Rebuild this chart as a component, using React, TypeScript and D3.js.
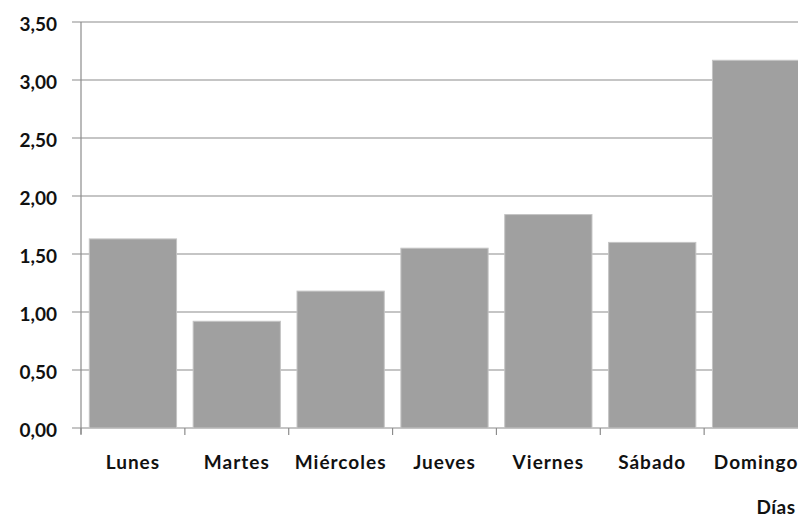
import React from "react";
import * as d3 from "d3";

const categories = ["Lunes", "Martes", "Miércoles", "Jueves", "Viernes", "Sábado", "Domingo"];
const values = [1.63, 0.92, 1.18, 1.55, 1.84, 1.6, 3.17];
const yTicks = [0, 0.5, 1, 1.5, 2, 2.5, 3, 3.5];
const xTitle = "Días";

const W = 798;
const H = 519;
const left = 81;
const right = 808;
const top = 22;
const bottom = 428;
const font = "Lato, 'Open Sans', sans-serif";

export default function App() {
  const x = d3.scaleBand<string>().domain(categories).range([left, right]).paddingInner(0.16).paddingOuter(0.08);
  const xTick = d3.scaleLinear().domain([0, categories.length]).range([left, right]);
  const y = d3.scaleLinear().domain([0, 3.5]).range([bottom, top]);
  const fmt = (v: number) => d3.format(".2f")(v).replace(".", ",");

  return (
    <svg width={W} height={H} style={{ position: "absolute", left: 0, top: 0 }}>
      <rect x={0} y={0} width={W} height={H} fill="#fff" />
      {yTicks.map((t) => (
        <g key={t}>
          <line x1={72} x2={right} y1={y(t)} y2={y(t)} stroke="#8c8c8c" strokeWidth={1.2} />
          <text x={57} y={y(t) + 8.5} textAnchor="end" fontFamily={font} fontWeight="bold" fontSize={19} fill="#111">
            {fmt(t)}
          </text>
        </g>
      ))}
      <line x1={left} x2={left} y1={top} y2={bottom + 6} stroke="#8c8c8c" strokeWidth={1.2} />
      {d3.range(categories.length + 1).map((i) => (
        <line key={i} x1={xTick(i)} x2={xTick(i)} y1={bottom} y2={bottom + 7} stroke="#8c8c8c" strokeWidth={1.2} />
      ))}
      {categories.map((c, i) => (
        <rect
          key={c}
          x={x(c)}
          y={y(values[i])}
          width={x.bandwidth()}
          height={bottom - y(values[i])}
          fill="#a0a0a0"
          stroke="#c4c4c4"
          strokeWidth={1}
        />
      ))}
      {categories.map((c) => (
        <text
          key={c}
          x={(x(c) as number) + x.bandwidth() / 2}
          y={469}
          textAnchor="middle"
          fontFamily={font}
          fontWeight="bold"
          fontSize={19}
          letterSpacing={1}
          fill="#111"
        >
          {c}
        </text>
      ))}
      <text x={776} y={514} textAnchor="middle" fontFamily={font} fontWeight="bold" fontSize={19} letterSpacing={0.5} fill="#111">
        {xTitle}
      </text>
    </svg>
  );
}
